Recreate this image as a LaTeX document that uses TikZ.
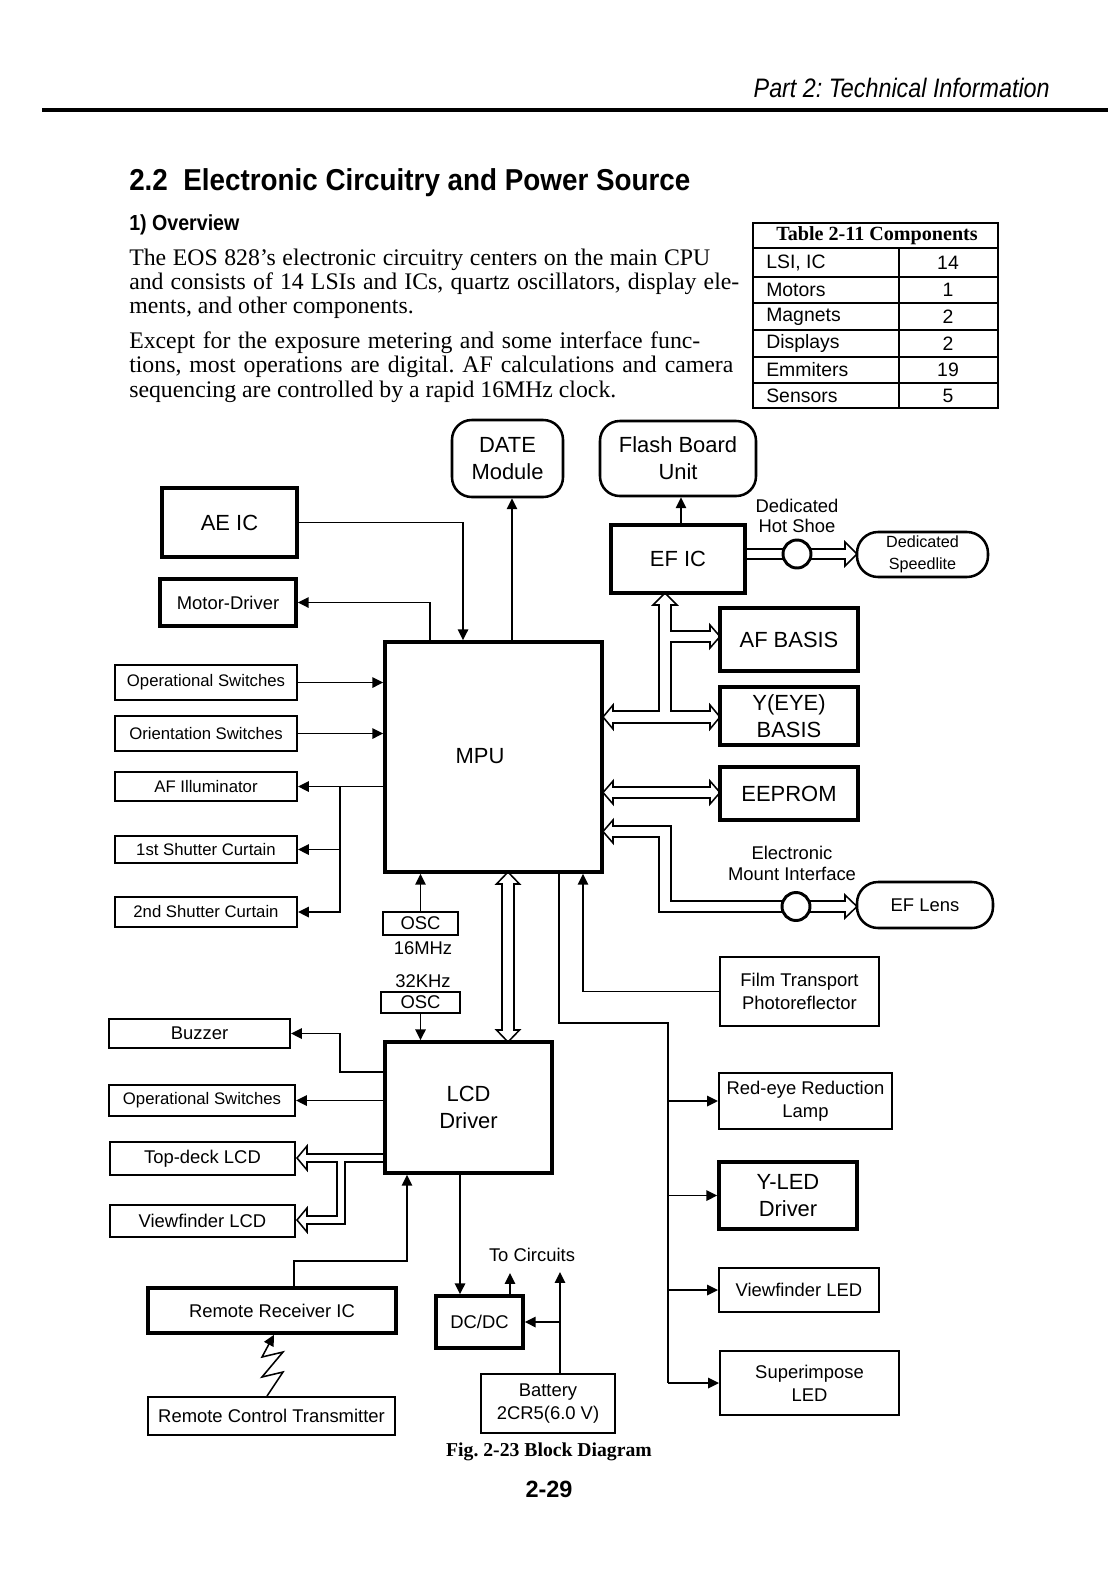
\documentclass[tikz,border=0pt]{standalone}
\usepackage{fontspec}
\setmainfont{Liberation Serif}
\setsansfont{Liberation Sans}
\usetikzlibrary{arrows.meta,calc}
\pgfdeclarelayer{bg}
\pgfsetlayers{bg,main}
\frenchspacing
\newdimen\px \px=0.025cm
\newcommand\fbig{\sffamily\fontsize{15.6}{19.2}\selectfont}
\newcommand\fmed{\sffamily\fontsize{13.1}{16.4}\selectfont}
\newcommand\fsml{\sffamily\fontsize{11.9}{14}\selectfont}
\newcommand\fspd{\sffamily\fontsize{11.5}{15.6}\selectfont}
\newcommand\ftab{\sffamily\fontsize{13.8}{16}\selectfont}
\newcommand\fbody{\rmfamily\fontsize{16.9}{17}\selectfont}
\begin{document}
\begin{tikzpicture}[x=0.025cm, y=-0.025cm,
  wh/.style 2 args={minimum width={#1*0.025cm}, minimum height={#2*0.025cm}},
  thickbox/.style={draw, line width=2.5pt, inner sep=0pt, align=center},
  thinbox/.style={draw, line width=1.4pt, inner sep=0pt, align=center},
  roundbox/.style={draw, line width=1.8pt, inner sep=0pt, align=center},
  ring/.style={circle, draw, line width=2.1pt, fill=white, inner sep=0pt, minimum size={28*0.025cm}},
  conn/.style={line width=1.1pt},
  arr/.style={conn, -{Triangle[length=7.8pt,width=7.5pt]}},
  hol/.style={line width=1.1pt, fill=white, line join=miter},
  txt/.style={inner sep=0pt, align=center},
  bodyline/.style={anchor=base west, inner sep=0pt, font=\fbody},
]
\useasboundingbox (0,0) rectangle (1115,1579);

% ---------- page header and text ----------
\node[anchor=base east, inner sep=0pt, font={\sffamily\itshape\fontsize{19}{21}\selectfont\addfontfeature{FakeStretch=0.873}}] (parthdr) at (1050,97) {Part 2: Technical Information};
\draw[line width=2.2pt] (42,110) -- (1108,110);
\node[anchor=base west, inner sep=0pt, font={\sffamily\bfseries\fontsize{21.5}{24}\selectfont\addfontfeature{FakeStretch=0.92}}] (heading) at (129,190) {2.2\ \ Electronic Circuitry and Power Source};
\node[anchor=base west, inner sep=0pt, font={\sffamily\bfseries\fontsize{15.5}{17}\selectfont\addfontfeature{FakeStretch=0.9}}] (overview) at (129,230) {1) Overview};
\node[bodyline] (l1) at (129,265) {\makebox[581\px][s]{The EOS 828's electronic circuitry centers on the main CPU}};
\node[bodyline] (l2) at (129,289) {\makebox[610\px][s]{and consists of 14 LSIs and ICs, quartz oscillators, display ele-}};
\node[bodyline] (l3) at (129,313) {ments, and other components.};
\node[bodyline] (l4) at (129,348) {\makebox[571\px][s]{Except for the exposure metering and some interface func-}};
\node[bodyline] (l5) at (129,372) {\makebox[604\px][s]{tions, most operations are digital. AF calculations and camera}};
\node[bodyline] (l6) at (129,397) {sequencing are controlled by a rapid 16MHz clock.};

% ---------- table ----------
\draw[line width=1.4pt] (753,223) rectangle (998,408);
\foreach \yy in {248,277,303,330,357,383} \draw[line width=1.1pt] (753,\yy) -- (998,\yy);
\draw[line width=1.1pt] (899,248) -- (899,408);
\node[txt, font={\rmfamily\bfseries\fontsize{14.3}{15}\selectfont}] (tabhead) at (877,236) {Table 2-11 Components};
\foreach \nm/\val/\yy in {LSI{,} IC/14/262.5, Motors/1/290, Magnets/2/316.5, Displays/2/343.5, Emmiters/19/370, Sensors/5/395.5}{
  \node[anchor=west, inner sep=0pt, font=\ftab] at (766,\yy) {\nm};
  \node[inner sep=0pt, font=\ftab] at (948,\yy) {\val};
}

% ---------- blocks ----------
\node[roundbox, wh={111}{77}, font=\fbig, rounded corners=14pt] (date) at (507.5,458.5) {DATE\\Module};
\node[roundbox, wh={156}{75}, font=\fbig, rounded corners=14pt] (flash) at (678,458.5) {Flash Board\\Unit};
\node[thickbox, wh={135}{69}, font=\fbig] (aeic) at (229.5,522.5) {AE IC};
\node[thickbox, wh={136}{47}, font=\fmed] (motor) at (228,602.5) {Motor-Driver};
\node[thickbox, wh={134}{68}, font=\fbig] (efic) at (678,559) {EF IC};
\node[roundbox, wh={131}{45}, font=\fspd, rounded corners=15pt] (speed) at (922.5,554.5) {Dedicated\\Speedlite};
\node[txt, font={\sffamily\fontsize{13.1}{14.2}\selectfont}] (hslbl) at (797,516) {Dedicated\\Hot Shoe};
\node[thickbox, wh={138}{63}, font=\fbig] (afb) at (789,639.5) {AF BASIS};
\node[thickbox, wh={138}{58}, font=\fbig] (yeye) at (789,716) {Y(EYE)\\BASIS};
\node[thickbox, wh={138}{53}, font=\fbig] (eeprom) at (789,793.5) {EEPROM};
\node[thickbox, wh={217}{230}] (mpu) at (493.5,757) {};
\node[txt, font=\fbig] (mpulbl) at (480,756) {MPU};
\node[txt, font={\sffamily\fontsize{13.1}{15}\selectfont}] (mountlbl) at (792,863) {Electronic\\Mount Interface};
\node[roundbox, wh={136}{46}, font=\fmed, rounded corners=15pt] (eflens) at (925,905) {EF Lens};

\node[thinbox, wh={182}{35}, font=\fsml] (ops1) at (206,682.5) {Operational Switches};
\node[thinbox, wh={182}{35}, font=\fsml] (orient) at (206,733.5) {Orientation Switches};
\node[thinbox, wh={182}{29}, font=\fsml] (afill) at (206,786.5) {AF Illuminator};
\node[thinbox, wh={182}{27}, font=\fsml] (shut1) at (206,849.5) {1st Shutter Curtain};
\node[thinbox, wh={182}{30}, font=\fsml] (shut2) at (206,912) {2nd Shutter Curtain};

\node[thinbox, wh={75}{23}, font=\fmed] (osc1) at (420.5,923.5) {OSC};
\node[txt, font=\fmed] (f16) at (423,948) {16MHz};
\node[txt, font=\fmed] (f32) at (423,981) {32KHz};
\node[thinbox, wh={79}{21}, font=\fmed] (osc2) at (420.5,1002.5) {OSC};

\node[thickbox, wh={167}{131}, font=\fbig] (lcd) at (468.5,1107.5) {LCD\\Driver};
\node[thinbox, wh={181}{29}, font=\fmed] (buzzer) at (199.5,1033.5) {Buzzer};
\node[thinbox, wh={186}{31}, font=\fsml] (ops2) at (202,1100.5) {Operational Switches};
\node[thinbox, wh={185}{33}, font=\fmed] (topdeck) at (202.5,1158.5) {Top-deck LCD};
\node[thinbox, wh={185}{32}, font=\fmed] (vflcd) at (202.5,1221) {Viewfinder LCD};

\node[thickbox, wh={248}{45}, font=\fmed] (rrx) at (272,1310.5) {Remote Receiver IC};
\node[thinbox, wh={247}{38}, font=\fmed] (rtx) at (271.5,1416) {Remote Control Transmitter};
\node[thickbox, wh={87}{52}, font=\fmed] (dcdc) at (479.5,1322) {DC/DC};
\node[thinbox, wh={134}{59}, font=\fmed] (battery) at (548,1403.5) {Battery\\2CR5(6.0 V)};
\node[txt, font=\fmed] (tocirc) at (532,1255) {To Circuits};

\node[thinbox, wh={159}{69}, font=\fmed] (film) at (799.5,991.5) {Film Transport\\Photoreflector};
\node[thinbox, wh={173}{56}, font=\fmed] (redeye) at (805.5,1101) {Red-eye Reduction\\Lamp};
\node[thickbox, wh={138}{67}, font=\fbig] (yled) at (788,1195.5) {Y-LED\\Driver};
\node[thinbox, wh={160}{44}, font=\fmed] (vfled) at (799,1290) {Viewfinder LED};
\node[thinbox, wh={179}{64}, font=\fmed] (superimp) at (809.5,1383) {Superimpose\\LED};

\node[ring] (hotshoe) at (797,554) {};
\node[ring] (mount) at (796,906.5) {};

\node[txt, font={\rmfamily\bfseries\fontsize{14}{16}\selectfont}] (caption) at (549,1452) {Fig. 2-23 Block Diagram};
\node[txt, font={\sffamily\bfseries\fontsize{16.7}{18}\selectfont}] (pagenum) at (549,1489) {2-29};

\coordinate (bj) at (668,1023);
\coordinate (tc1) at (510,1273);
\coordinate (tc2) at (560,1272);

% ---------- connectors ----------
\begin{pgfonlayer}{bg}
\draw[arr] (aeic.east) -| (463,0 |- mpu.north);
\draw[arr] (430,0 |- mpu.north) |- (motor.east);
\draw[arr] (512,0 |- mpu.north) -- (512,0 |- date.south);
\draw[arr] (ops1.east) -- (ops1.east -| mpu.west);
\draw[arr] (orient.east) -- (orient.east -| mpu.west);
\draw[arr] (afill.east -| mpu.west) -- (afill.east);
\draw[arr] (340,0 |- afill.east) |- (shut1.east);
\draw[arr] (340,0 |- afill.east) |- (shut2.east);
\draw[arr] (osc1.north) -- (osc1.north |- mpu.south);
\draw[arr] (osc2.south) -- (osc2.south |- lcd.north);
\draw[arr] (681,0 |- efic.north) -- (681,0 |- flash.south);
\draw[arr] (film.west) -| (583,0 |- mpu.south);
\draw[conn] (559,0 |- mpu.south) |- (bj) -- (bj |- superimp.west);
\draw[arr] (bj |- redeye.west) -- (redeye.west);
\draw[arr] (bj |- yled.west) -- (yled.west);
\draw[arr] (bj |- vfled.west) -- (vfled.west);
\draw[arr] (bj |- superimp.west) -- (superimp.west);
\draw[arr] (lcd.west |- 0,1072) -| (340,0 |- buzzer.east) -- (buzzer.east);
\draw[arr] (lcd.west |- ops2.east) -- (ops2.east);
\draw[arr] (rrx.north -| 294,0) -- (294,1261) -| (407,0 |- lcd.south);
\draw[arr] (460,0 |- lcd.south) -- (460,0 |- dcdc.north);
\draw[arr] (510,0 |- dcdc.north) -- (tc1);
\draw[arr] (560,0 |- battery.north) -- (tc2);
\draw[arr] (560,0 |- dcdc.east) -- (dcdc.east);
\draw[arr] (267,0 |- rtx.north) -- (283,1372) -- (262,1377) -- (283,1352) -- (262,1357) -- (274,0 |- rrx.south);

% hollow (bus) arrows
\draw[hol] (745,549) -- (845,549) -- (845,542) -- (857,554) -- (845,566) -- (845,559) -- (745,559);
\draw[hol] (603,717) -- (613,705) -- (613,711) -- (659,711) -- (659,605) -- (653,605) -- (665,593)
  -- (677,605) -- (671,605) -- (671,631) -- (710,631) -- (710,625) -- (720,636.5) -- (710,648)
  -- (710,642) -- (671,642) -- (671,711) -- (710,711) -- (710,705) -- (720,717) -- (710,729)
  -- (710,723) -- (613,723) -- (613,729) -- cycle;
\draw[hol] (603,792.5) -- (613,781) -- (613,787) -- (710,787) -- (710,781) -- (720,792.5)
  -- (710,804) -- (710,798) -- (613,798) -- (613,804) -- cycle;
\draw[hol] (603,831.5) -- (613,820) -- (613,826) -- (671,826) -- (671,901) -- (845,901) -- (845,895)
  -- (857,906.5) -- (845,918) -- (845,912) -- (659,912) -- (659,837) -- (613,837) -- (613,843) -- cycle;
\draw[hol] (508,872) -- (519.5,884) -- (514,884) -- (514,1030) -- (519.5,1030) -- (508,1042)
  -- (496.5,1030) -- (502,1030) -- (502,884) -- (496.5,884) -- cycle;
\draw[hol] (297,1158) -- (307,1146) -- (307,1154) -- (385,1154) -- (385,1162) -- (345,1162)
  -- (345,1224) -- (307,1224) -- (307,1232) -- (297,1220) -- (307,1208) -- (307,1216)
  -- (337,1216) -- (337,1162) -- (307,1162) -- (307,1170) -- cycle;
\end{pgfonlayer}
\end{tikzpicture}
\end{document}
